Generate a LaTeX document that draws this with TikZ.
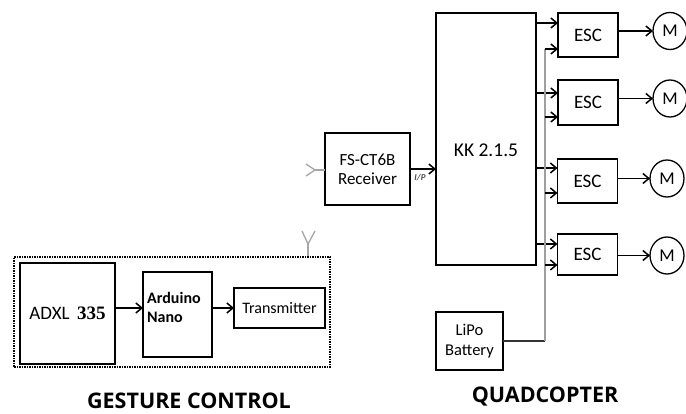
\documentclass[tikz,border=0pt]{standalone}
\usepackage{fontspec}
\setmainfont{Carlito}
\newfontfamily\titlefont{Open Sans}
\newfontfamily\serifnum{Liberation Serif}
\usetikzlibrary{arrows.meta,shapes.geometric}
\begin{document}
\begin{tikzpicture}[x=1pt,y=-1pt,
  box/.style={draw, line width=2pt, inner sep=0pt, outer sep=0pt, align=center},
  escbox/.style={box, line width=1.5pt, minimum width=60pt, font=\fontsize{19}{21}\selectfont},
  motor/.style={draw, ellipse, line width=1.3pt, minimum width=34pt, minimum height=37pt, inner sep=0pt, outer sep=0pt, font=\fontsize{18}{20}\selectfont},
  arr/.style={line width=1.5pt, -{Straight Barb[length=6pt,width=10pt,line width=1.5pt]}},
  bus/.style={draw=gray!75, line width=1.5pt},
  ant/.style={draw=gray!70, line width=1.3pt},
  title/.style={font=\titlefont\bfseries\fontsize{21.5}{24}\selectfont, anchor=base}
]
\useasboundingbox (0,0) rectangle (686,414);

% ---------- QUADCOPTER ----------
\node[box, minimum width=100pt, minimum height=252pt] (kk) at (486,139) {};
\node[font=\fontsize{19.5}{21}\selectfont] (kkt) at (486,150) {KK 2.1.5};

\node[escbox, minimum height=44pt] (esc1) at (588,35) {ESC};
\node[escbox, minimum height=45pt] (esc2) at (588,102.5) {ESC};
\node[escbox, minimum height=44pt] (esc3) at (587.5,181) {ESC};
\node[escbox, minimum height=41pt] (esc4) at (587.5,254.5) {ESC};

\node[motor] (m1) at (670,31) {M};
\node[motor] (m2) at (670,98.5) {M};
\node[motor] (m3) at (667,178.5) {M};
\node[motor] (m4) at (667,255.5) {M};

\foreach \i in {1,...,4}{
  \draw[arr] (m\i.west -| esc\i.east) -- (m\i.west);
}

% signal lines from KK
\coordinate (k1) at (536,23);
\coordinate (k2) at (536,93);
\coordinate (k3) at (536,168);
\coordinate (k4) at (536,244);
\foreach \i in {1,...,4}{
  \draw[arr] (k\i) -- (k\i -| esc\i.west);
}

% battery and power bus
\node[box, minimum width=67pt, minimum height=58pt, font=\fontsize{16.5}{20}\selectfont] (bat) at (469.5,341) {LiPo\\Battery};
\coordinate (b0) at (545,341);
\coordinate (b1) at (545,49);
\coordinate (b2) at (545,117);
\coordinate (b3) at (545,193);
\coordinate (b4) at (545,265);
\draw[line width=1.5pt, draw=gray!40!black] (bat.east) -- (b0);
\draw[bus] (b0) -- (b1);
\foreach \i in {1,...,4}{
  \draw[arr] (b\i) -- (b\i -| esc\i.west);
}

% receiver
\node[box, minimum width=85pt, minimum height=72pt, font=\fontsize{17}{19}\selectfont] (rx) at (367.5,169) {FS-CT6B\\Receiver};
\draw[arr] (rx.east) -- (kk.west |- rx.east);
\node[font=\fontsize{9}{9}\selectfont\bfseries\itshape, text=gray!60!black, inner sep=0pt] (ip) at (420,177.5) {I/P};
\coordinate (ra) at (315,170);
\coordinate (ra1) at (306,164);
\coordinate (ra2) at (306,176);
\draw[ant] (rx.west |- ra) -- (ra);
\draw[ant] (ra1) -- (ra) -- (ra2);

\node[title] (qt) at (545,402) {QUADCOPTER};

% ---------- GESTURE CONTROL ----------
\node[draw, densely dotted, line width=1.5pt, inner sep=0pt, minimum width=316pt, minimum height=110pt] (gc) at (172,312) {};
\coordinate (ga) at (308,244);
\coordinate (ga1) at (302,231);
\coordinate (ga2) at (315,231);
\draw[ant] (gc.north -| ga) -- (ga);
\draw[ant] (ga1) -- (ga) -- (ga2);

\node[box, minimum width=95pt, minimum height=101pt, font=\fontsize{19}{21}\selectfont] (adxl) at (67.5,313.5) {ADXL\, {\serifnum\bfseries 335}};
\node[box, minimum width=69pt, minimum height=85pt] (ard) at (177.5,314.5) {};
\node[anchor=west, align=left, inner sep=0pt, font=\fontsize{16}{19}\selectfont\bfseries] (ardt) at (147,307.5) {Arduino\\Nano};
\node[box, minimum width=91pt, minimum height=40pt, font=\fontsize{16}{18}\selectfont] (tx) at (279.5,308) {Transmitter};

\draw[arr] (adxl.east |- tx.west) -- (ard.west |- tx.west);
\draw[arr] (ard.east |- tx.west) -- (tx.west);

\node[title] (gt) at (189,408) {GESTURE CONTROL};
\end{tikzpicture}
\end{document}
